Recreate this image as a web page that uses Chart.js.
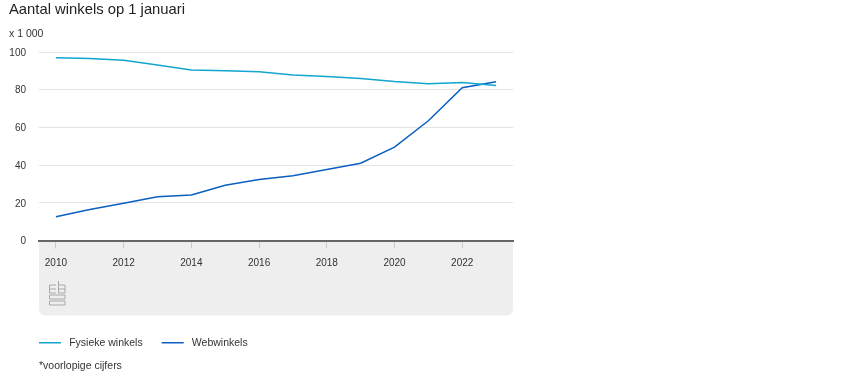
<!DOCTYPE html>
<html>
<head>
<meta charset="utf-8">
<script src="https://cdn.jsdelivr.net/npm/chart.js@4"></script>
<style>
  html, body { margin: 0; padding: 0; background: #fff; }
  #wrap { position: relative; width: 862px; height: 377px; overflow: hidden; }
  #note { position: absolute; left: 39px; top: 359px; font: 10.5px "Liberation Sans", Arial, sans-serif; color: #333; }
</style>
</head>
<body>
<div id="wrap">
  <canvas id="mygraph" width="862" height="377"></canvas>
  <div id="note">*voorlopige cijfers</div>
</div>
<script>
const years = ["2010","2011","2012","2013","2014","2015","2016","2017","2018","2019","2020","2021","2022","2023"];
const fysiek = [97, 96.5, 95.6, 93.1, 90.5, 90, 89.5, 87.8, 87, 85.9, 84.3, 83.2, 83.8, 82.2];
const web = [12.6, 16.5, 19.8, 23.2, 24.2, 29.3, 32.3, 34.4, 37.7, 41, 49.5, 63.5, 81, 84.2];

const textColor = "#333";
const font = "'Liberation Sans', Arial, sans-serif";

// grey panel under the x axis + cbs logo
const panel = {
  id: "panel",
  beforeDraw(chart) {
    const { ctx, chartArea: a } = chart;
    ctx.save();
    ctx.fillStyle = "#eeeeee";
    ctx.beginPath();
    ctx.roundRect(a.left, a.bottom, a.right - a.left, 75, [0, 0, 6, 6]);
    ctx.fill();
    ctx.restore();
  },
  afterDraw(chart) {
    const { ctx, chartArea: a } = chart;
    const x = a.left + 10.5, y = a.bottom + 40.5;
    ctx.save();
    ctx.strokeStyle = "#a8a8a8";
    ctx.lineWidth = 1;
    ctx.beginPath();
    // c
    ctx.moveTo(x + 6.5, y + 4); ctx.lineTo(x, y + 4); ctx.lineTo(x, y + 12); ctx.lineTo(x + 6.5, y + 12);
    ctx.moveTo(x + 6.5, y + 8); ctx.lineTo(x, y + 8);
    // b
    ctx.moveTo(x + 9, y); ctx.lineTo(x + 9, y + 12); ctx.lineTo(x + 15.5, y + 12); ctx.lineTo(x + 15.5, y + 4); ctx.lineTo(x + 9, y + 4);
    ctx.moveTo(x + 9, y + 8); ctx.lineTo(x + 15.5, y + 8);
    // s
    ctx.rect(x, y + 14, 15.5, 4);
    ctx.rect(x, y + 20, 15.5, 4);
    ctx.stroke();
    ctx.restore();
  },
  // legend has to start under the plot, title stays further left
  afterLayout(chart) {
    chart.legend.left = 20;
  }
};

new Chart(document.getElementById("mygraph"), {
  type: "line",
  data: {
    labels: years,
    datasets: [
      { label: "Fysieke winkels", data: fysiek, borderColor: "#12a5d0", backgroundColor: "#12a5d0", borderWidth: 1.5, pointRadius: 0, pointStyle: "line" },
      { label: "Webwinkels", data: web, borderColor: "#0a5fc0", backgroundColor: "#0a5fc0", borderWidth: 1.5, pointRadius: 0, pointStyle: "line" }
    ]
  },
  plugins: [panel],
  options: {
    responsive: false,
    animation: false,
    layout: { padding: { left: 9, right: 349, top: 0, bottom: 19 } },
    plugins: {
      title: {
        display: true,
        text: "Aantal winkels op 1 januari",
        align: "start",
        color: "#222",
        font: { family: font, size: 14.8, weight: "normal", lineHeight: "18px" },
        padding: { top: 1, bottom: 9 }
      },
      subtitle: {
        display: true,
        text: "x 1 000",
        align: "start",
        color: textColor,
        font: { family: font, size: 10.5, weight: "normal", lineHeight: "13px" },
        padding: { top: 0, bottom: 11 }
      },
      legend: {
        position: "bottom",
        align: "start",
        labels: {
          usePointStyle: true,
          pointStyleWidth: 22,
          padding: 19,
          color: textColor,
          font: { family: font, size: 10.5 },
          generateLabels(chart) {
            return Chart.defaults.plugins.legend.labels.generateLabels(chart).map(l => {
              l.text = " " + l.text;
              return l;
            });
          }
        }
      },
      tooltip: { enabled: false }
    },
    scales: {
      x: {
        offset: true,
        afterFit(scale) { scale.height = 78; },
        grid: { drawOnChartArea: false, tickLength: 8, tickColor: "#cccccc" },
        border: { color: "#666666", width: 2 },
        ticks: { color: textColor, font: { family: font, size: 10 }, maxRotation: 0, autoSkip: true, maxTicksLimit: 7, padding: 9 }
      },
      y: {
        min: 0,
        max: 100,
        afterFit(scale) { scale.width = 30; },
        grid: { color: "#e3e3e3", drawTicks: false },
        border: { display: false },
        ticks: { stepSize: 20, color: textColor, font: { family: font, size: 10 }, padding: 13, labelOffset: 1 }
      }
    }
  }
});
</script>
</body>
</html>
